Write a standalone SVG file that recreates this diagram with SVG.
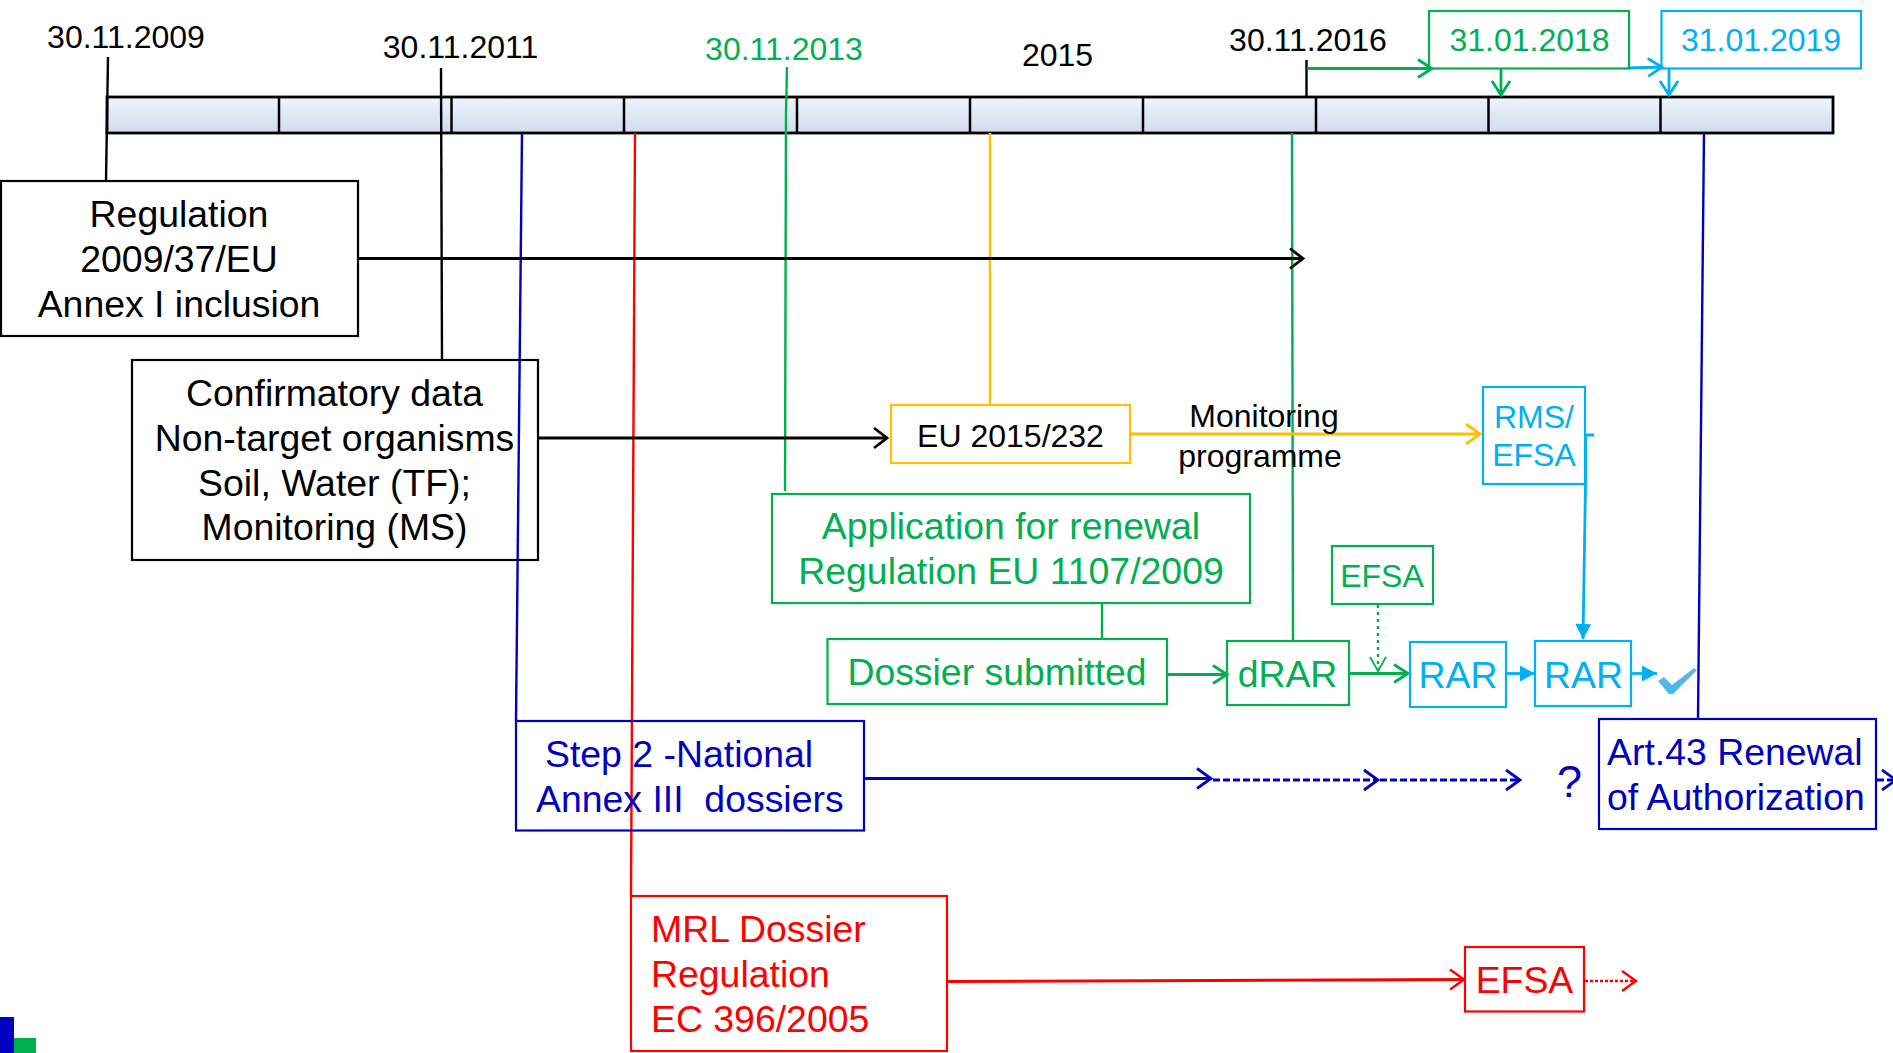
<svg xmlns="http://www.w3.org/2000/svg" width="1893" height="1053" viewBox="0 0 1893 1053">
<style>
text{font-family:"Liberation Sans",Arial,sans-serif}
.c{text-anchor:middle}
.k{fill:#000}.g{fill:#00B050}.b{fill:#00B0F0}.d{fill:#0000C0}.r{fill:#FF0000}
.box{fill:none;stroke-width:2.2}
.bk{stroke:#000}.bg{stroke:#00B050}.bb{stroke:#00B0F0}.bd{stroke:#0000C0}.br{stroke:#FF0000}.by{stroke:#FFC000}
.s37{font-size:37.400px}.s32{font-size:32px}
#connectors path{fill:none;stroke-width:2.400px}
.div{stroke:#000;stroke-width:2.500px;fill:none}
</style>
<defs>
<linearGradient id="barG" x1="0" y1="0" x2="0" y2="1"><stop offset="0" stop-color="#F0F4FB"/><stop offset="1" stop-color="#CFDBEE"/></linearGradient>
<linearGradient id="chk" x1="0" y1="0" x2="0" y2="1"><stop offset="0" stop-color="#6FB4D4"/><stop offset="1" stop-color="#3CBBF2"/></linearGradient>
<marker id="oK" markerUnits="userSpaceOnUse" markerWidth="24" markerHeight="28" refX="18" refY="14" orient="auto"><path d="M5 4L18 14L5 24" fill="none" stroke="#000" stroke-width="2.800"/></marker>
<marker id="oG" markerUnits="userSpaceOnUse" markerWidth="24" markerHeight="28" refX="18" refY="14" orient="auto"><path d="M4 5L18 14L4 23" fill="none" stroke="#00B050" stroke-width="2.800"/></marker>
<marker id="oGt" markerUnits="userSpaceOnUse" markerWidth="24" markerHeight="28" refX="18" refY="14" orient="auto"><path d="M4 6L18 14L4 22" fill="none" stroke="#00B050" stroke-width="1.800"/></marker>
<marker id="oB" markerUnits="userSpaceOnUse" markerWidth="24" markerHeight="28" refX="18" refY="14" orient="auto"><path d="M4 5L18 14L4 23" fill="none" stroke="#00B0F0" stroke-width="2.800"/></marker>
<marker id="oD" markerUnits="userSpaceOnUse" markerWidth="24" markerHeight="28" refX="18" refY="14" orient="auto"><path d="M4 4L18 14L4 24" fill="none" stroke="#0000C0" stroke-width="2.800"/></marker>
<marker id="oR" markerUnits="userSpaceOnUse" markerWidth="24" markerHeight="28" refX="18" refY="14" orient="auto"><path d="M4 4L18 14L4 24" fill="none" stroke="#FF0000" stroke-width="2.400"/></marker>
<marker id="oY" markerUnits="userSpaceOnUse" markerWidth="24" markerHeight="28" refX="18" refY="14" orient="auto"><path d="M4 4L18 14L4 24" fill="none" stroke="#FFC000" stroke-width="2.800"/></marker>
<marker id="sB" markerUnits="userSpaceOnUse" markerWidth="20" markerHeight="20" refX="16" refY="10" orient="auto"><path d="M1 2L16 10L1 18Z" fill="#00B0F0"/></marker>
</defs>

<g id="timeline">
<rect x="107" y="97" width="1726" height="36" fill="url(#barG)" stroke="#000" stroke-width="2.800"/>
<path class="div" d="M279 97V133M451.500 97V133M624 97V133M797 97V133M970 97V133M1143 97V133M1316 97V133M1488.500 97V133M1660.500 97V133"/>
</g>

<g id="connectors">
<path class="bk" d="M108 57L106 181"/>
<path class="bk" d="M441 68L442 360"/>
<path class="bk" d="M1306.500 60V96"/>
<path class="bg" d="M787 67L786 112L785 491"/>
<path class="bd" d="M522 133L516 721"/>
<path class="br" d="M635 133L631 896"/>
<path class="by" d="M990 133V405"/>
<path class="bg" d="M1292 133L1293 641"/>
<path class="bd" d="M1704 133L1698 719"/>
<path class="bk" style="stroke-width:2.800px" marker-end="url(#oK)" d="M358 258.500H1303"/>
<path class="bk" style="stroke-width:2.800px" marker-end="url(#oK)" d="M538 438H887"/>
<path class="by" style="stroke-width:2.800px" marker-end="url(#oY)" d="M1130 434H1480"/>
<path class="bg" style="stroke-width:2.800px" marker-end="url(#oG)" d="M1307 68.500H1432"/>
<path class="bg" style="stroke-width:2.800px" marker-end="url(#oG)" d="M1501 68V95"/>
<path class="bb" style="stroke-width:2.800px" marker-end="url(#oB)" d="M1630 68L1662 67"/>
<path class="bb" style="stroke-width:2.800px" marker-end="url(#oB)" d="M1669 68V95"/>
<path class="bb" style="stroke-width:2.800px" marker-end="url(#sB)" d="M1585 435H1594M1585.500 435V484L1583 639"/>
<path class="bg" marker-end="url(#oG)" style="stroke-width:2.800px" d="M1167 674.500H1227"/>
<path class="bg" marker-end="url(#oG)" style="stroke-width:2.800px" d="M1349 673.500H1408"/>
<path class="bg" marker-end="url(#oGt)" stroke-dasharray="3 4" d="M1378 605V671"/>
<path class="bb" marker-end="url(#sB)" style="stroke-width:2.800px" d="M1506 673.500H1535"/>
<path class="bb" marker-end="url(#sB)" style="stroke-width:2.800px" d="M1632 673.500H1657"/>
<path class="bd" marker-end="url(#oD)" style="stroke-width:2.800px" d="M864 778.500H1211"/>
<path class="bd" marker-end="url(#oD)" style="stroke-width:2.800px" stroke-dasharray="7 3" d="M1213 780H1378"/>
<path class="bd" marker-end="url(#oD)" style="stroke-width:2.800px" stroke-dasharray="7 3" d="M1380 780H1520"/>
<path class="bd" marker-end="url(#oD)" style="stroke-width:2.800px" stroke-dasharray="7 3" d="M1877 780H1896"/>
<path class="br" marker-end="url(#oR)" style="stroke-width:2.800px" d="M948 981.500L1464 979.500"/>
<path class="br" marker-end="url(#oR)" stroke-dasharray="3 2" d="M1585 981H1636"/>
<path class="bg" d="M1102 603V639"/>
</g>

<g id="date-2009"><text class="c k s32" x="126" y="47.500">30.11.2009</text></g>
<g id="date-2011"><text class="c k s32" x="460.500" y="58">30.11.2011</text></g>
<g id="date-2013"><text class="c g s32" x="784" y="60">30.11.2013</text></g>
<g id="date-2015"><text class="c k s32" x="1057.500" y="66">2015</text></g>
<g id="date-2016"><text class="c k s32" x="1308" y="51">30.11.2016</text></g>
<g id="date-2018"><rect class="box bg" x="1429" y="11" width="200" height="57.500"/><text class="c g s32" x="1529.500" y="51">31.01.2018</text></g>
<g id="date-2019"><rect class="box bb" x="1661.500" y="11" width="199.500" height="57.500"/><text class="c b s32" x="1761" y="51">31.01.2019</text></g>

<g id="regulation"><rect class="box bk" x="1" y="181" width="357" height="155"/>
<text class="c k s37" x="179" y="227">Regulation</text><text class="c k s37" x="179" y="272">2009/37/EU</text><text class="c k s37" x="179" y="317">Annex I inclusion</text></g>
<g id="confirmatory"><rect class="box bk" x="132" y="360" width="406" height="200"/>
<text class="c k s37" x="334.500" y="406">Confirmatory data</text><text class="c k s37" x="334.500" y="451">Non-target organisms</text><text class="c k s37" x="334.500" y="496">Soil, Water (TF);</text><text class="c k s37" x="334.500" y="540">Monitoring (MS)</text></g>
<g id="eu-2015"><rect class="box by" x="891" y="405" width="239" height="58"/><text class="c k s32" x="1010.500" y="447">EU 2015/232</text></g>
<g id="monitoring-label"><text class="c k s32" x="1264" y="427">Monitoring</text><text class="c k s32" x="1260" y="467">programme</text></g>
<g id="rms-efsa"><rect class="box bb" x="1483" y="387" width="102" height="97"/><text class="c b s32" x="1534" y="428">RMS/</text><text class="c b s32" x="1534" y="466">EFSA</text></g>
<g id="application"><rect class="box bg" x="772" y="494" width="478" height="109"/><text class="c g s37" x="1011" y="539">Application for renewal</text><text class="c g s37" x="1011" y="584">Regulation EU 1107/2009</text></g>
<g id="dossier"><rect class="box bg" x="827.500" y="639" width="339.500" height="65"/><text class="c g s37" x="997" y="685">Dossier submitted</text></g>
<g id="drar"><rect class="box bg" x="1227" y="641" width="122" height="64"/><text class="c g s37" x="1287.500" y="687">dRAR</text></g>
<g id="efsa-green"><rect class="box bg" x="1332" y="546" width="101" height="58"/><text class="c g s32" x="1382" y="587">EFSA</text></g>
<g id="rar1"><rect class="box bb" x="1410" y="642" width="96" height="65"/><text class="c b s37" x="1458" y="688">RAR</text></g>
<g id="rar2"><rect class="box bb" x="1535" y="641" width="96" height="65"/><text class="c b s37" x="1583.500" y="688">RAR</text></g>
<g id="check"><path d="M1658 681L1664 677L1672 685L1694 668L1697 670L1673 694L1669 694Z" fill="url(#chk)"/></g>
<g id="step2"><rect class="box bd" x="516" y="721" width="348" height="109.500"/><text class="d s37" x="545" y="767">Step 2 -National</text><text class="d s37" x="536" y="812" xml:space="preserve">Annex III  dossiers</text></g>
<g id="question"><text class="c d" x="1569.500" y="797" font-size="45">?</text></g>
<g id="art43"><rect class="box bd" x="1599" y="719" width="277" height="110"/><text class="d s37" x="1607" y="765">Art.43 Renewal</text><text class="d s37" x="1607" y="810">of Authorization</text></g>
<g id="mrl"><rect class="box br" x="631" y="896" width="316" height="155"/><text class="r s37" x="651" y="942">MRL Dossier</text><text class="r s37" x="651" y="987">Regulation</text><text class="r s37" x="651" y="1032">EC 396/2005</text></g>
<g id="efsa-red"><rect class="box br" x="1465" y="947" width="119" height="64.500"/><text class="c r s37" x="1524.500" y="993">EFSA</text></g>
<g id="logo"><rect x="0" y="1017" width="14" height="36" fill="#0000C0"/><rect x="14" y="1038" width="22" height="15" fill="#00B050"/></g>
</svg>
